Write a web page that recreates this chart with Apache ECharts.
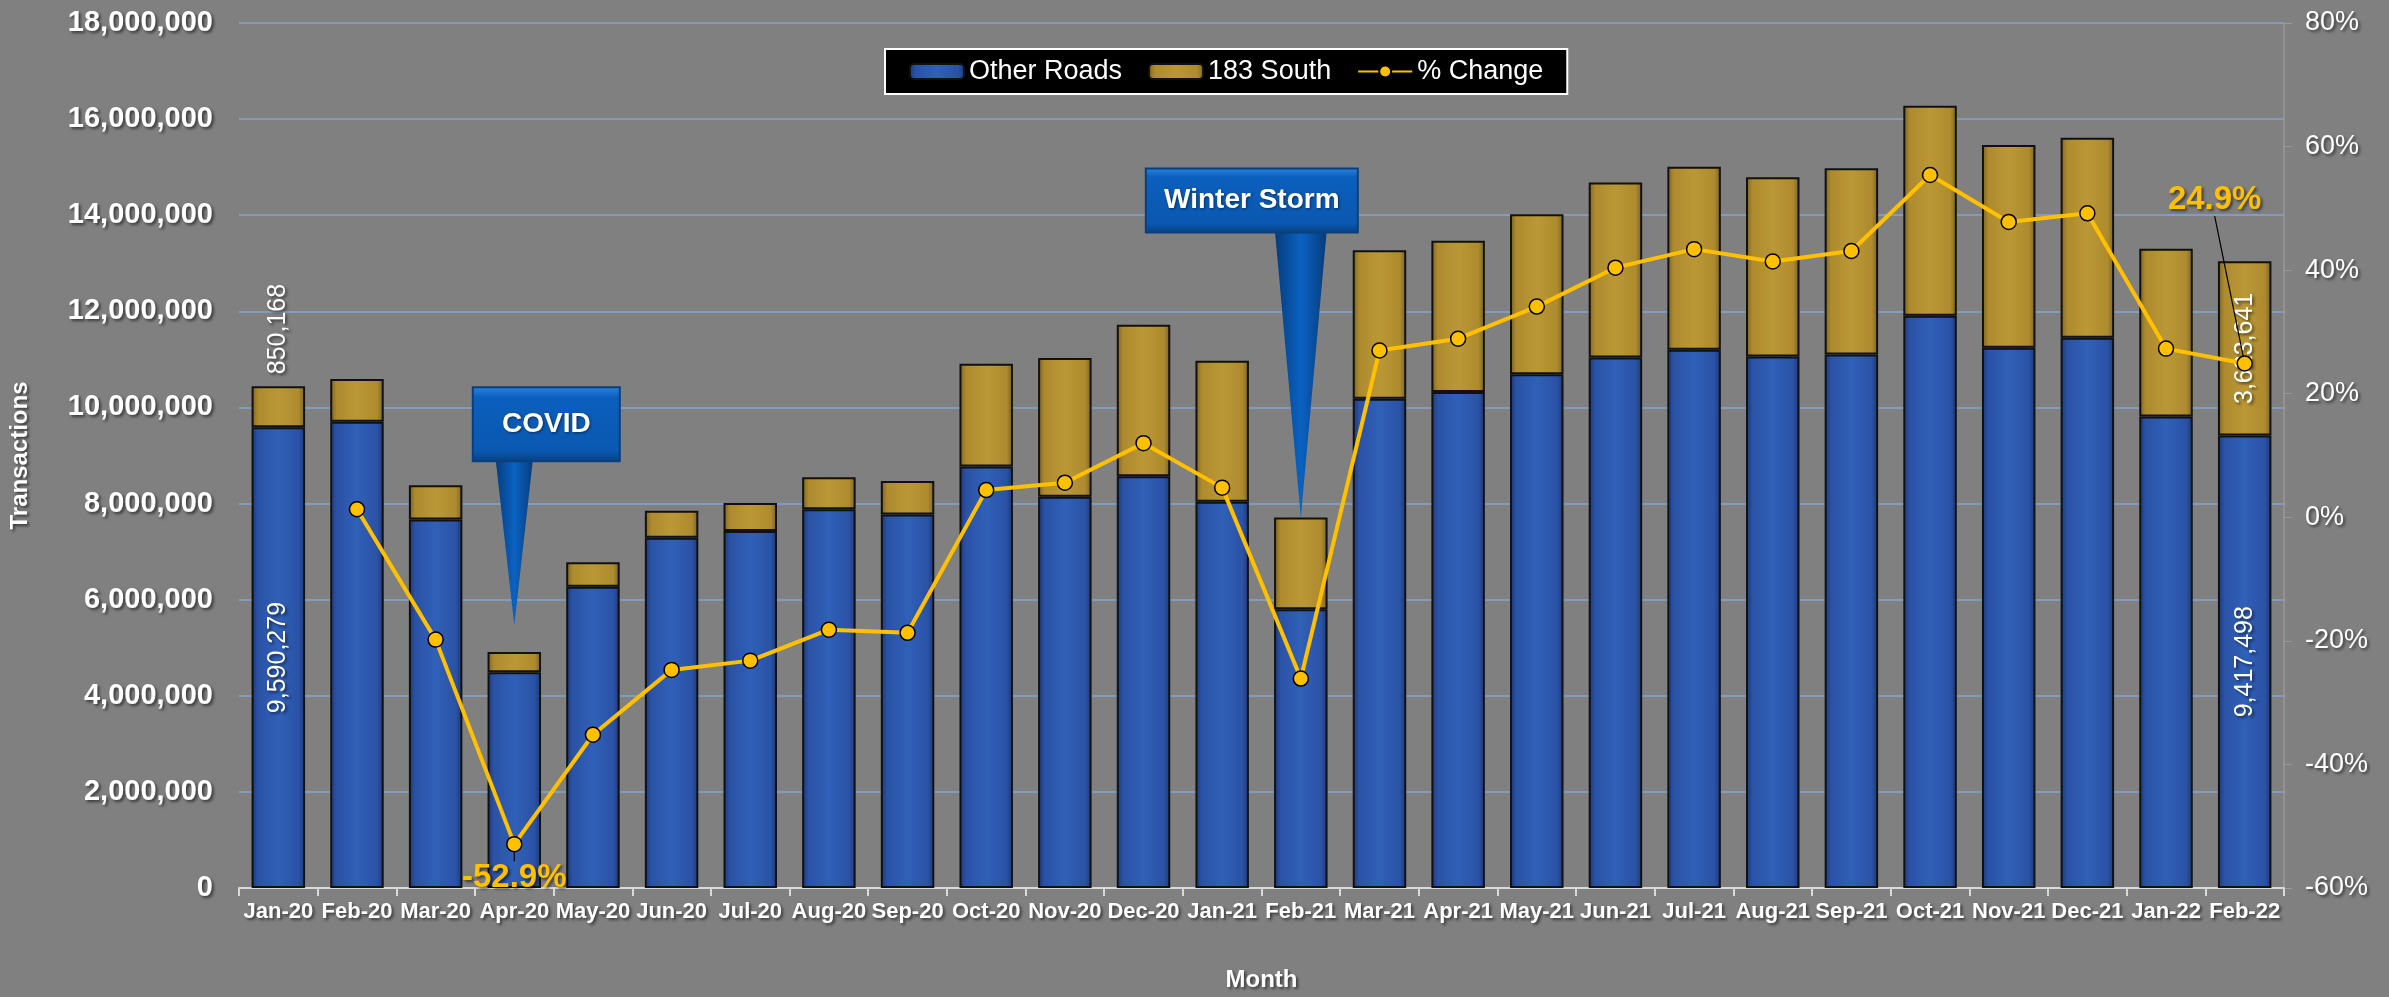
<!DOCTYPE html>
<html>
<head>
<meta charset="utf-8">
<title>Transactions</title>
<script src="https://cdn.jsdelivr.net/npm/echarts@6/dist/echarts.min.js"></script>
<style>
  html, body { margin: 0; padding: 0; background: #808080; }
  #main { width: 2389px; height: 997px; }
</style>
</head>
<body>
<div id="main"></div>
<script>
// categories
var months = ['Jan-20', 'Feb-20', 'Mar-20', 'Apr-20', 'May-20', 'Jun-20', 'Jul-20', 'Aug-20', 'Sep-20',
  'Oct-20', 'Nov-20', 'Dec-20', 'Jan-21', 'Feb-21', 'Mar-21', 'Apr-21', 'May-21', 'Jun-21', 'Jul-21',
  'Aug-21', 'Sep-21', 'Oct-21', 'Nov-21', 'Dec-21', 'Jan-22', 'Feb-22']

// transactions, other roads
var otherRoads = [9590279, 9700000, 7670000, 4490000, 6270000, 7290000, 7430000, 7880000, 7770000,
  8770000, 8140000, 8570000, 8040000, 5800000, 10180000, 10320000, 10690000, 11040000, 11200000,
  11060000, 11100000, 11910000, 11240000, 11450000, 9810000, 9417498]

// transactions, 183 South
var south183 = [850168, 890000, 710000, 420000, 510000, 560000, 580000, 670000, 700000,
  2140000, 2890000, 3150000, 2930000, 1910000, 3090000, 3150000, 3330000, 3640000, 3810000,
  3730000, 3880000, 4370000, 4220000, 4160000, 3490000, 3623641]

// % change
var pctChange = [null, 1.3, -19.8, -52.9, -35.2, -24.7, -23.2, -18.2, -18.7,
  4.4, 5.6, 12.0, 4.8, -26.1, 27.0, 28.9, 34.1, 40.4, 43.4,
  41.4, 43.1, 55.4, 47.8, 49.2, 27.3, 24.9]

// callouts: tip sits on (month, transactions)
var notes = [
  { text: 'COVID', month: 'Apr-20', value: 5470000 },
  { text: 'Winter Storm', month: 'Feb-21', value: 7710000 }
]
var noteBoxes = [
  { dx: 32, lift: 164, w: 147, h: 74, base: 40 },
  { dx: -49, lift: 285, w: 212, h: 64, base: 54 }
]

var shadow = { textShadowColor: 'rgba(0,0,0,0.55)', textShadowBlur: 3, textShadowOffsetX: 2, textShadowOffsetY: 2 }
var font = 'Liberation Sans, Arial, sans-serif'
var last = months.length - 1

function fmt (v) {
  return Number(v).toLocaleString('en-US')
}

function barFill (dark, mid, light) {
  return new echarts.graphic.LinearGradient(0, 0, 1, 0, [
    { offset: 0, color: dark },
    { offset: 0.12, color: mid },
    { offset: 0.5, color: light },
    { offset: 0.88, color: mid },
    { offset: 1, color: dark }
  ])
}

var barLabel = Object.assign({
  show: true,
  rotate: 90,
  color: '#fff',
  fontSize: 25,
  fontFamily: font,
  formatter: function (p) { return fmt(p.value) }
}, shadow)

var otherData = otherRoads.map(function (v, i) {
  if (i === 0 || i === last) {
    return { value: v, label: Object.assign({ position: 'inside' }, barLabel) }
  }
  return v
})
var southData = south183.map(function (v, i) {
  if (i === 0) {
    return { value: v, label: Object.assign({ position: 'top', align: 'left', verticalAlign: 'middle', distance: 12 }, barLabel) }
  }
  if (i === last) {
    return { value: v, label: Object.assign({ position: 'inside' }, barLabel) }
  }
  return v
})
var pctLabel = Object.assign({
  show: true,
  color: '#ffc000',
  fontSize: 33,
  fontWeight: 'bold',
  fontFamily: font,
  formatter: function (p) { return p.value.toFixed(1) + '%' }
}, shadow)
var pctData = pctChange.map(function (v, i) {
  if (v === -52.9) {
    return { value: v, label: Object.assign({ position: 'bottom', distance: 9 }, pctLabel) }
  }
  if (i === last) {
    return { value: v, label: Object.assign({ position: 'top' }, pctLabel) }
  }
  return v
})

var chart = echarts.init(document.getElementById('main'))

var option = {
  backgroundColor: '#808080',
  animation: false,
  textStyle: { fontFamily: font },
  grid: { left: 233, right: 105, top: 23, bottom: 102, containLabel: false },
  legend: {
    left: 885,
    top: 49,
    padding: [9, 24, 9, 24],
    backgroundColor: '#000',
    borderColor: '#fff',
    borderWidth: 2,
    borderRadius: 0,
    itemGap: 26,
    itemWidth: 54,
    itemHeight: 15,
    textStyle: Object.assign({ color: '#fff', fontSize: 27, fontFamily: font }, shadow),
    data: ['Other Roads', '183 South', '% Change']
  },
  xAxis: {
    type: 'category',
    data: months,
    axisLine: { lineStyle: { color: '#d9d9d9', width: 2 } },
    axisTick: { show: true, length: 8, lineStyle: { color: '#d9d9d9', width: 2 } },
    axisLabel: Object.assign({ color: '#fff', fontSize: 22, fontWeight: 'bold', margin: 13, interval: 0 }, shadow),
    name: 'Month',
    nameLocation: 'middle',
    nameGap: 80,
    nameTextStyle: Object.assign({ color: '#fff', fontSize: 24, fontWeight: 'bold' }, shadow)
  },
  yAxis: [
    {
      type: 'value',
      min: 0,
      max: 18000000,
      interval: 2000000,
      axisLine: { show: false },
      axisTick: { show: false },
      axisLabel: Object.assign({
        color: '#fff', fontSize: 29, fontWeight: 'bold', margin: 26,
        formatter: function (v) { return fmt(v) }
      }, shadow),
      splitLine: { lineStyle: { color: '#86a6cf', width: 1.5 } },
      name: 'Transactions',
      nameLocation: 'middle',
      nameGap: 207,
      nameTextStyle: Object.assign({ color: '#fff', fontSize: 24, fontWeight: 'bold' }, shadow)
    },
    {
      type: 'value',
      min: -60,
      max: 80,
      interval: 20,
      axisLine: { show: true, lineStyle: { color: '#989898', width: 1.5 } },
      axisTick: { show: true, length: 8, lineStyle: { color: '#989898' } },
      axisLabel: Object.assign({ color: '#fff', fontSize: 27, margin: 21, formatter: '{value}%' }, shadow),
      splitLine: { show: false }
    }
  ],
  series: [
    {
      name: 'Other Roads',
      type: 'bar',
      stack: 'tx',
      barWidth: '68%',
      data: otherData,
      itemStyle: {
        color: barFill('#1b3877', '#2a52a5', '#3060b8'),
        borderColor: '#111',
        borderWidth: 2
      }
    },
    {
      name: '183 South',
      type: 'bar',
      stack: 'tx',
      data: southData,
      itemStyle: {
        color: barFill('#7a6120', '#ad8b2e', '#bb9836'),
        borderColor: '#111',
        borderWidth: 2
      }
    },
    {
      name: '% Change',
      type: 'line',
      yAxisIndex: 1,
      data: pctData,
      z: 5,
      symbol: 'circle',
      symbolSize: 15,
      lineStyle: { color: '#ffc000', width: 4 },
      itemStyle: { color: '#ffc000', borderColor: '#000', borderWidth: 1.5 },
      labelLine: { show: true, lineStyle: { color: '#000', width: 1.2 } },
      labelLayout: function (p) {
        if (p.dataIndex === last) {
          return { dx: -30, dy: -134 }
        }
      }
    }
  ]
}

chart.setOption(option)

// callout boxes with a pointer down to the bar
var graphics = []
notes.forEach(function (n, i) {
  var b = noteBoxes[i]
  var tip = chart.convertToPixel({ xAxisIndex: 0, yAxisIndex: 0 }, [n.month, n.value])
  var cx = tip[0] + b.dx
  var bottom = tip[1] - b.lift
  var top = bottom - b.h
  graphics.push({
    type: 'polygon',
    z: 100,
    shape: { points: [[tip[0] - b.base / 2, bottom - 14], [tip[0] + b.base / 2, bottom - 14], [tip[0], tip[1]]] },
    style: {
      fill: new echarts.graphic.LinearGradient(0, 0, 1, 0, [
        { offset: 0, color: '#063a78' },
        { offset: 0.5, color: '#0a62c2' },
        { offset: 1, color: '#063a78' }
      ])
    }
  })
  graphics.push({
    type: 'rect',
    z: 101,
    shape: { x: cx - b.w / 2, y: top, width: b.w, height: b.h },
    style: {
      fill: new echarts.graphic.LinearGradient(0, 0, 0, 1, [
        { offset: 0, color: '#2a86e0' },
        { offset: 0.15, color: '#0b5fbd' },
        { offset: 0.85, color: '#0a58b0' },
        { offset: 1, color: '#073f80' }
      ]),
      stroke: '#0a3f7c',
      lineWidth: 2
    }
  })
  graphics.push({
    type: 'text',
    z: 102,
    x: cx,
    y: top + b.h / 2,
    style: {
      text: n.text,
      fill: '#fff',
      font: 'bold 28px ' + font,
      align: 'center',
      verticalAlign: 'middle',
      textShadowColor: 'rgba(0,0,0,0.5)',
      textShadowBlur: 3,
      textShadowOffsetX: 1,
      textShadowOffsetY: 1
    }
  })
})
chart.setOption({ graphic: graphics })

window.onresize = function () {
  chart.resize()
}
</script>
</body>
</html>
